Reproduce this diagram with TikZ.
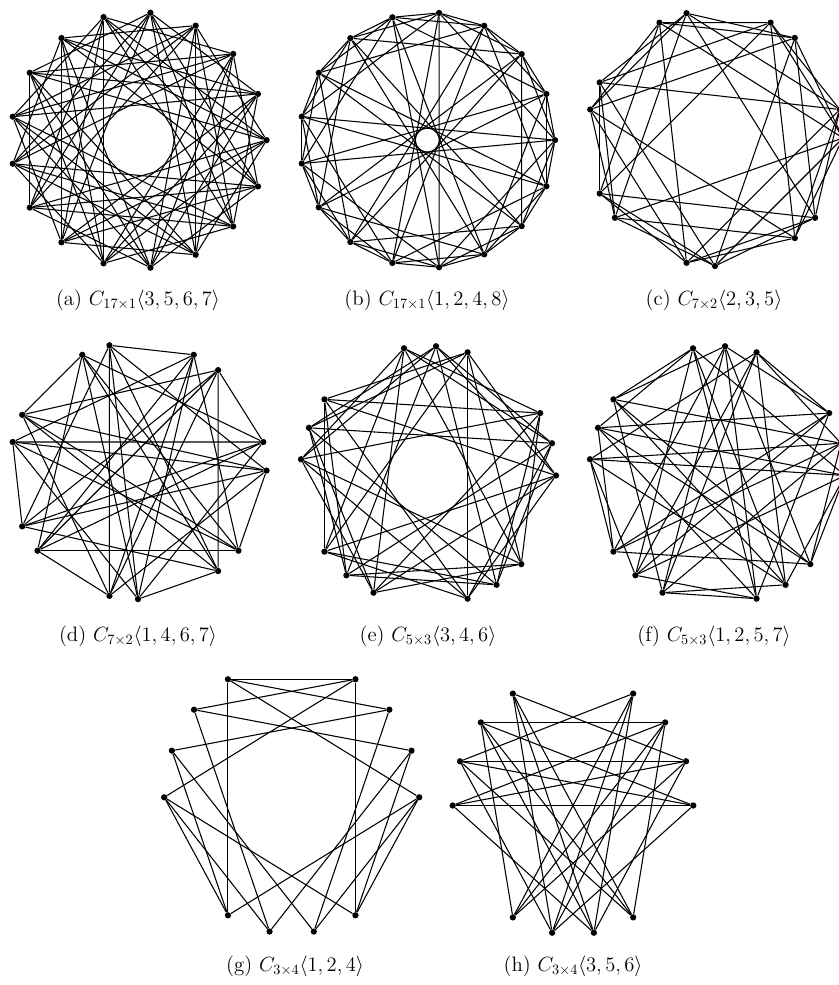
\documentclass[tikz,border=0pt]{standalone}
\usepackage{amsmath,amssymb}
\usepackage{tikz}
\usetikzlibrary{positioning}

% grouped circulant: name, n, m, centre x, centre y, radius x, radius y, jumps
\newcommand{\cgraph}[8]{%
  \pgfmathtruncatemacro\lastv{#2*#3-1}
  \foreach \k in {0,...,\lastv} {
    \pgfmathsetmacro\ang{360*floor(\k/#3)/#2+360*mod(\k,#3)/(#2*(#3+2))}
    \node[vtx] (#1\k) at ({#4+#6*cos(\ang)},{#5+#7*sin(\ang)}) {};
  }
  \foreach \i in {0,...,\lastv} {
    \foreach \s in {#8} {
      \pgfmathtruncatemacro\j{mod(\i+\s,#2*#3)}
      \pgfmathtruncatemacro\nodraw{(floor(\i/#3)==floor(\j/#3)) || ((2*\s==#2*#3) && (\i>\j))}
      \ifnum\nodraw=0 \draw[edge] (#1\i) -- (#1\j); \fi
    }
  }
}

\begin{document}
\begin{tikzpicture}[
  x=0.7pt,y=0.7pt,
  vtx/.style={circle,fill=black,inner sep=0pt,minimum size=4.4pt},
  edge/.style={line width=0.75pt,black},
  subcap/.style={font=\fontsize{14.6}{17}\selectfont,inner sep=1pt}
]
  \useasboundingbox (0,0) rectangle (839,985);

  % Top row
  \cgraph{a}{17}{1}{138.6}{844.8}{128}{128}{3,5,6,7}
  \cgraph{b}{17}{1}{427.3}{844.9}{127.7}{127.7}{1,2,4,8}
  \cgraph{c}{7}{2}{715}{847}{128}{128}{2,3,5}
  \node[subcap] (capa) at (138,685) {(a) $C_{17\times 1}\langle 3,5,6,7\rangle$};
  \node[subcap] (capb) at (427,685) {(b) $C_{17\times 1}\langle 1,2,4,8\rangle$};
  \node[subcap] (capc) at (714,685) {(c) $C_{7\times 2}\langle 2,3,5\rangle$};

  % Middle row
  \cgraph{d}{7}{2}{138}{514.4}{128.5}{128.5}{1,4,6,7}
  \cgraph{e}{5}{3}{428}{509.5}{128}{129.5}{3,4,6}
  \cgraph{f}{5}{3}{717}{509.5}{128}{129.5}{1,2,5,7}
  \node[subcap] (capd) at (138,349) {(d) $C_{7\times 2}\langle 1,4,6,7\rangle$};
  \node[subcap] (cape) at (428,349) {(e) $C_{5\times 3}\langle 3,4,6\rangle$};
  \node[subcap] (capf) at (714,349) {(f) $C_{5\times 3}\langle 1,2,5,7\rangle$};

  % Bottom row -- stretched
  \cgraph{g}{3}{4}{291.7}{187.7}{127.5}{136.3}{1,2,4}
  \cgraph{h}{3}{4}{573}{179.5}{120.3}{129.2}{3,5,6}
  \node[subcap] (capg) at (295,19) {(g) $C_{3\times 4}\langle 1,2,4\rangle$};
  \node[subcap] (caph) at (573,19) {(h) $C_{3\times 4}\langle 3,5,6\rangle$};
\end{tikzpicture}
\end{document}
